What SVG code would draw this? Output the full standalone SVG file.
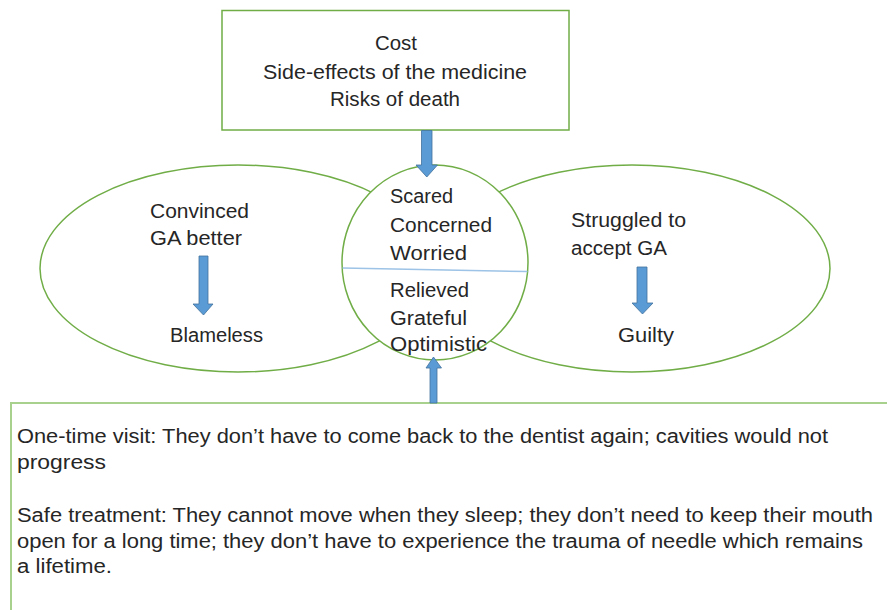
<svg xmlns="http://www.w3.org/2000/svg" width="887" height="610" viewBox="0 0 887 610">
<style>
.t{font-family:"Liberation Sans",Arial,sans-serif;font-size:20px;fill:#262626}
.b{font-family:"Liberation Sans",Arial,sans-serif;font-size:19.5px;fill:#262626}
.shape{fill:#fff;stroke:#70ad47;stroke-width:1.5}
.arrow{fill:#5b9bd5;stroke:#41719c;stroke-width:0.8}
</style>
<rect width="887" height="610" fill="#fff"/>
<g id="left-ellipse">
<ellipse class="shape" cx="238" cy="268.5" rx="198" ry="103.5"/>
<text class="t" x="150" y="218" textLength="99" lengthAdjust="spacingAndGlyphs">Convinced</text>
<text class="t" x="150" y="245" textLength="92" lengthAdjust="spacingAndGlyphs">GA better</text>
<polygon class="arrow" points="199,256 208,256 208,304 213,304 203.5,315 193,304 199,304"/>
<text class="t" x="170" y="342" textLength="93" lengthAdjust="spacingAndGlyphs">Blameless</text>
</g>
<g id="right-ellipse">
<ellipse class="shape" cx="632" cy="268.5" rx="198" ry="103.5"/>
<text class="t" x="571" y="227" textLength="115" lengthAdjust="spacingAndGlyphs">Struggled to</text>
<text class="t" x="571" y="255" textLength="96" lengthAdjust="spacingAndGlyphs">accept GA</text>
<polygon class="arrow" points="637,267 647,267 647,303 653,303 642.5,314 632,303 637,303"/>
<text class="t" x="618" y="342" textLength="56" lengthAdjust="spacingAndGlyphs">Guilty</text>
</g>
<g id="emotions-circle">
<ellipse class="shape" cx="435" cy="262.5" rx="93" ry="97.5"/>
<line x1="342.5" y1="268" x2="527.5" y2="271.5" stroke="#9dc3e6" stroke-width="1.5"/>
<text class="t" x="390" y="203" textLength="63" lengthAdjust="spacingAndGlyphs">Scared</text>
<text class="t" x="390" y="232" textLength="102" lengthAdjust="spacingAndGlyphs">Concerned</text>
<text class="t" x="390" y="260" textLength="77" lengthAdjust="spacingAndGlyphs">Worried</text>
<text class="t" x="390" y="297" textLength="79" lengthAdjust="spacingAndGlyphs">Relieved</text>
<text class="t" x="390" y="325" textLength="77" lengthAdjust="spacingAndGlyphs">Grateful</text>
<text class="t" x="390" y="351" textLength="97" lengthAdjust="spacingAndGlyphs">Optimistic</text>
</g>
<g id="costs-box">
<rect class="shape" x="222" y="10.5" width="347" height="119.5"/>
<text class="t" x="375" y="50" textLength="42" lengthAdjust="spacingAndGlyphs">Cost</text>
<text class="t" x="263" y="79" textLength="264" lengthAdjust="spacingAndGlyphs">Side-effects of the medicine</text>
<text class="t" x="330" y="106" textLength="130" lengthAdjust="spacingAndGlyphs">Risks of death</text>
</g>
<g id="benefits-box">
<rect x="11" y="403" width="900" height="230" fill="#fff" stroke="#a9d18e" stroke-width="2"/>
<text class="b" x="17" y="443" textLength="811" lengthAdjust="spacingAndGlyphs">One-time visit: They don’t have to come back to the dentist again; cavities would not</text>
<text class="b" x="17" y="469" textLength="89" lengthAdjust="spacingAndGlyphs">progress</text>
<text class="b" x="17" y="522" textLength="856" lengthAdjust="spacingAndGlyphs">Safe treatment: They cannot move when they sleep; they don’t need to keep their mouth</text>
<text class="b" x="17" y="548" textLength="846" lengthAdjust="spacingAndGlyphs">open for a long time; they don’t have to experience the trauma of needle which remains</text>
<text class="b" x="17" y="573" textLength="95" lengthAdjust="spacingAndGlyphs">a lifetime.</text>
</g>
<g id="connectors">
<polygon class="arrow" points="421.5,130.5 432,130.5 432,165 437.5,165 426.8,177 416,165 421.5,165"/>
<polygon class="arrow" points="430,403 437,403 437,368 441.5,368 433.5,357 426,368 430,368"/>
</g>
</svg>
